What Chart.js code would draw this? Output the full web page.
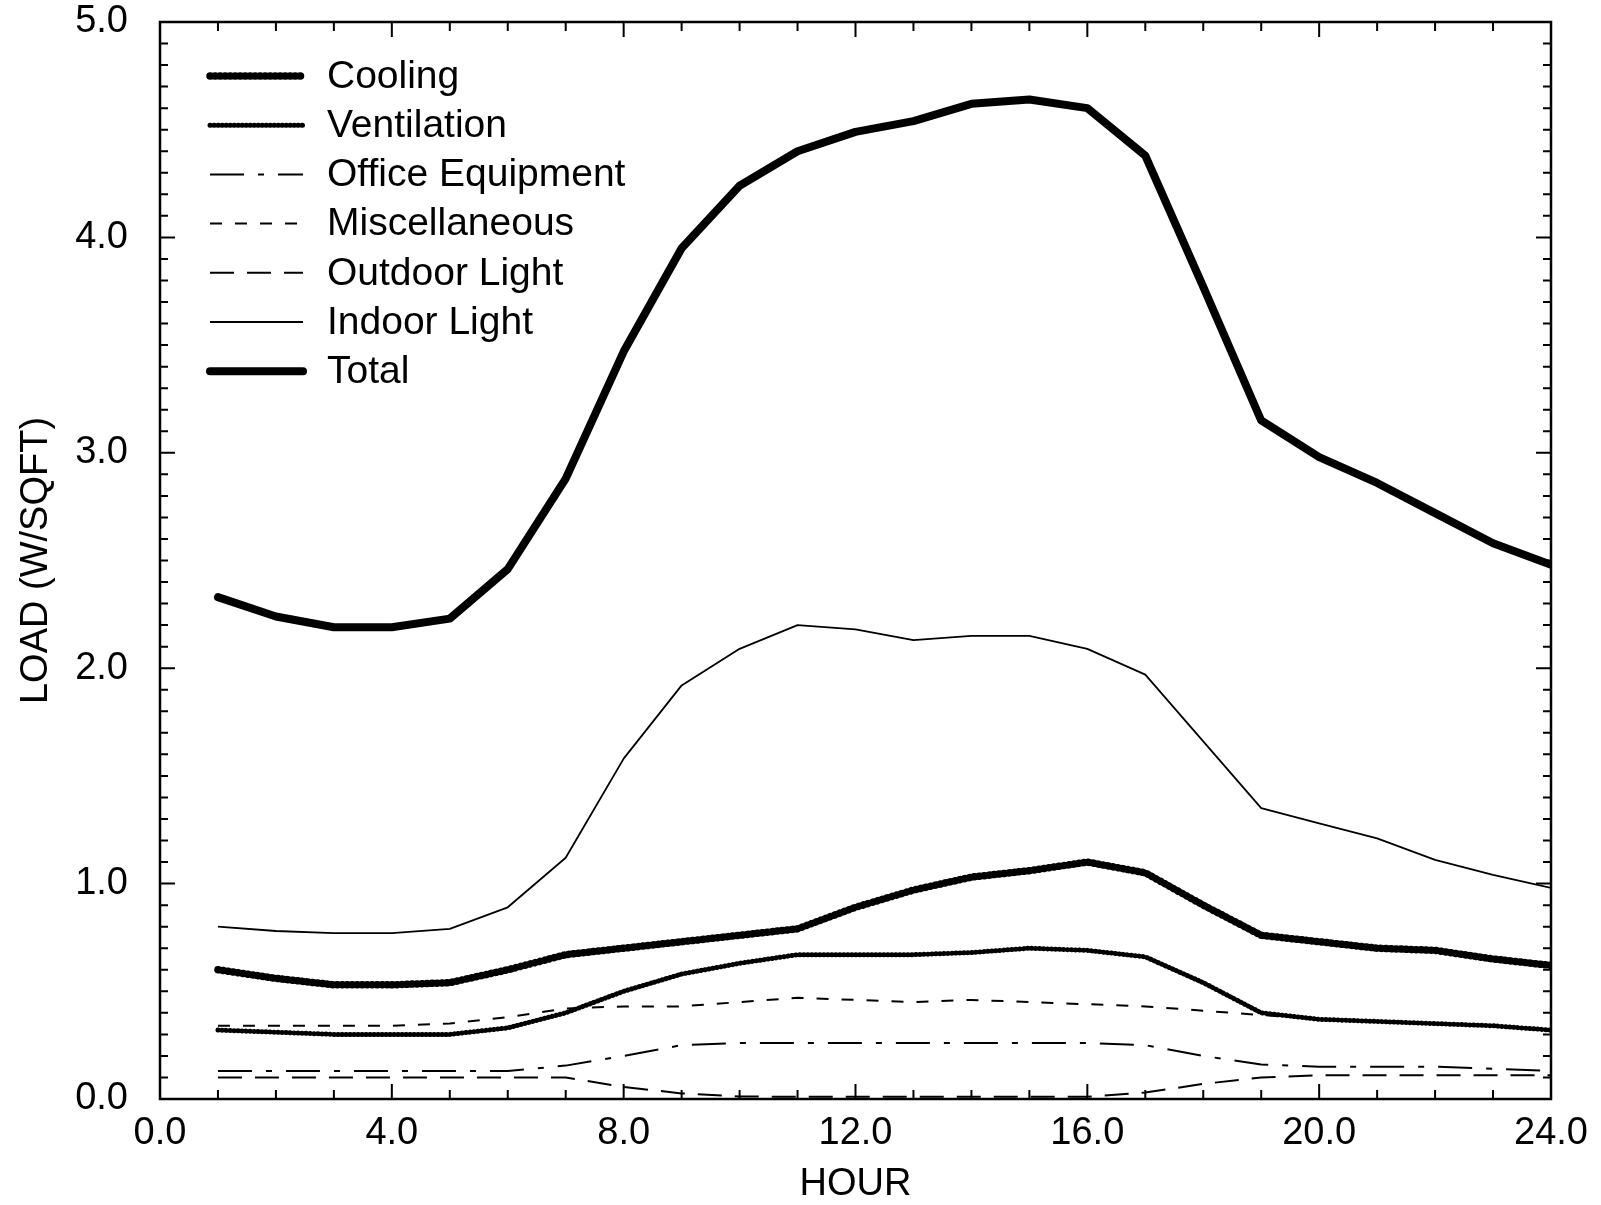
<!DOCTYPE html>
<html>
<head>
<meta charset="utf-8">
<script src="https://cdn.jsdelivr.net/npm/chart.js@4.4.1/dist/chart.umd.min.js"></script>
<style>
  body { margin: 0; background: #fff; }
  canvas { display: block; }
</style>
</head>
<body>
<canvas id="loadChart" width="1601" height="1205"></canvas>
<script>
// hourly load profile (W/SQFT)
const hours = [1, 2, 3, 4, 5, 6, 7, 8, 9, 10, 11, 12, 13, 14, 15, 16, 17, 18, 19, 20, 21, 22, 23, 24];
const cooling = [0.60, 0.56, 0.53, 0.53, 0.54, 0.60, 0.67, 0.70, 0.73, 0.76, 0.79, 0.89, 0.97, 1.03, 1.06, 1.10, 1.05, 0.90, 0.76, 0.73, 0.70, 0.69, 0.65, 0.62];
const ventilation = [0.32, 0.31, 0.30, 0.30, 0.30, 0.33, 0.40, 0.50, 0.58, 0.63, 0.67, 0.67, 0.67, 0.68, 0.70, 0.69, 0.66, 0.54, 0.40, 0.37, 0.36, 0.35, 0.34, 0.32];
const officeEquipment = [0.13, 0.13, 0.13, 0.13, 0.13, 0.13, 0.155, 0.20, 0.25, 0.26, 0.26, 0.26, 0.26, 0.26, 0.26, 0.26, 0.25, 0.20, 0.16, 0.15, 0.15, 0.15, 0.14, 0.13];
const miscellaneous = [0.34, 0.34, 0.34, 0.34, 0.35, 0.38, 0.42, 0.43, 0.43, 0.45, 0.47, 0.46, 0.45, 0.46, 0.45, 0.44, 0.43, 0.41, 0.39, 0.37, 0.36, 0.35, 0.34, 0.32];
const outdoorLight = [0.10, 0.10, 0.10, 0.10, 0.10, 0.10, 0.10, 0.056, 0.026, 0.012, 0.01, 0.01, 0.01, 0.01, 0.01, 0.01, 0.03, 0.07, 0.10, 0.11, 0.11, 0.11, 0.11, 0.11];
const indoorLight = [0.80, 0.78, 0.77, 0.77, 0.79, 0.89, 1.12, 1.58, 1.92, 2.09, 2.20, 2.18, 2.13, 2.15, 2.15, 2.09, 1.97, 1.66, 1.35, 1.28, 1.21, 1.11, 1.04, 0.98];
const total = [2.33, 2.24, 2.19, 2.19, 2.23, 2.46, 2.88, 3.47, 3.95, 4.24, 4.40, 4.49, 4.54, 4.62, 4.64, 4.60, 4.38, 3.77, 3.15, 2.98, 2.86, 2.72, 2.58, 2.48];
const xTicks = [0, 4, 8, 12, 16, 20, 24];
const yTicks = [0, 1, 2, 3, 4, 5];

const FONT = '"Liberation Sans", Arial, Helvetica, sans-serif';

function points(values) {
  return hours.map((h, i) => ({ x: h, y: values[i] }));
}

function series(label, values, width, dash, cap) {
  return {
    label: label,
    data: points(values),
    borderColor: '#000',
    borderWidth: width,
    borderDash: dash,
    borderCapStyle: cap || 'butt',
    borderJoinStyle: 'round',
    pointRadius: 0,
    tension: 0,
    fill: false
  };
}

// frame + inward tick marks on all four sides
const frameTicks = {
  id: 'frameTicks',
  afterDraw(chart) {
    const { ctx, chartArea: a, scales } = chart;
    ctx.save();
    ctx.strokeStyle = '#000';
    ctx.lineWidth = 2.5;
    ctx.strokeRect(a.left, a.top, a.right - a.left, a.bottom - a.top);
    ctx.lineWidth = 2;
    ctx.beginPath();
    for (let h = 0; h <= 24; h++) {
      const px = scales.x.getPixelForValue(h);
      const len = h % 4 === 0 ? 15 : 9;
      ctx.moveTo(px, a.bottom); ctx.lineTo(px, a.bottom - len);
      ctx.moveTo(px, a.top); ctx.lineTo(px, a.top + len);
    }
    for (let k = 0; k <= 50; k++) {
      const py = scales.y.getPixelForValue(k / 10);
      const len = k % 10 === 0 ? 15 : 8;
      ctx.moveTo(a.left, py); ctx.lineTo(a.left + len, py);
      ctx.moveTo(a.right, py); ctx.lineTo(a.right - len, py);
    }
    ctx.stroke();
    ctx.restore();
  }
};

// legend in the upper left of the plot
const insetLegend = {
  id: 'insetLegend',
  afterDraw(chart) {
    const { ctx, chartArea: a } = chart;
    ctx.save();
    ctx.font = '39px ' + FONT;
    ctx.fillStyle = '#000';
    ctx.textBaseline = 'middle';
    chart.data.datasets.forEach((ds, i) => {
      const y = a.top + 54 + i * 49.2;
      ctx.strokeStyle = '#000';
      ctx.lineWidth = ds.borderWidth;
      ctx.lineCap = ds.borderCapStyle;
      ctx.setLineDash(ds.borderDash || []);
      ctx.beginPath();
      ctx.moveTo(a.left + 50, y);
      ctx.lineTo(a.left + 143, y);
      ctx.stroke();
      ctx.setLineDash([]);
      ctx.fillText(ds.label, a.left + 167, y + 1);
    });
    ctx.restore();
  }
};

new Chart(document.getElementById('loadChart'), {
  type: 'line',
  data: {
    datasets: [
      series('Cooling', cooling, 7.5, [0.5, 4.5], 'round'),
      series('Ventilation', ventilation, 5, [0.5, 3.5], 'round'),
      series('Office Equipment', officeEquipment, 2, [34, 14, 6, 14]),
      series('Miscellaneous', miscellaneous, 2, [12, 13]),
      series('Outdoor Light', outdoorLight, 2, [24, 13]),
      series('Indoor Light', indoorLight, 1.8, []),
      series('Total', total, 8, [], 'round')
    ]
  },
  options: {
    responsive: false,
    animation: false,
    layout: { padding: { top: 22, right: 50, left: 0, bottom: 0 } },
    plugins: {
      legend: { display: false },
      tooltip: { enabled: false }
    },
    scales: {
      x: {
        type: 'linear',
        min: 0,
        max: 24,
        afterFit(scale) {
          scale.height = 106;
          scale.paddingLeft = 0;
          scale.paddingRight = 0;
        },
        afterBuildTicks(scale) { scale.ticks = xTicks.map(v => ({ value: v })); },
        grid: { display: false, drawTicks: false },
        border: { display: false },
        ticks: {
          color: '#000',
          padding: 12,
          maxRotation: 0,
          font: { family: FONT, size: 38 },
          callback: v => v.toFixed(1)
        },
        title: {
          display: true,
          text: 'HOUR',
          color: '#000',
          font: { family: FONT, size: 38, lineHeight: 1.1 },
          padding: { top: 0, bottom: 0 }
        }
      },
      y: {
        min: 0,
        max: 5,
        afterFit(scale) {
          scale.width = 160;
          scale.paddingTop = 0;
          scale.paddingBottom = 0;
        },
        afterBuildTicks(scale) { scale.ticks = yTicks.map(v => ({ value: v })); },
        grid: { display: false, drawTicks: false },
        border: { display: false },
        ticks: {
          color: '#000',
          padding: 32,
          font: { family: FONT, size: 38 },
          callback: v => v.toFixed(1)
        },
        title: {
          display: true,
          text: 'LOAD (W/SQFT)',
          color: '#000',
          font: { family: FONT, size: 38, lineHeight: 1.2 },
          padding: { top: 14, bottom: 0 }
        }
      }
    }
  },
  plugins: [frameTicks, insetLegend]
});
</script>
</body>
</html>
